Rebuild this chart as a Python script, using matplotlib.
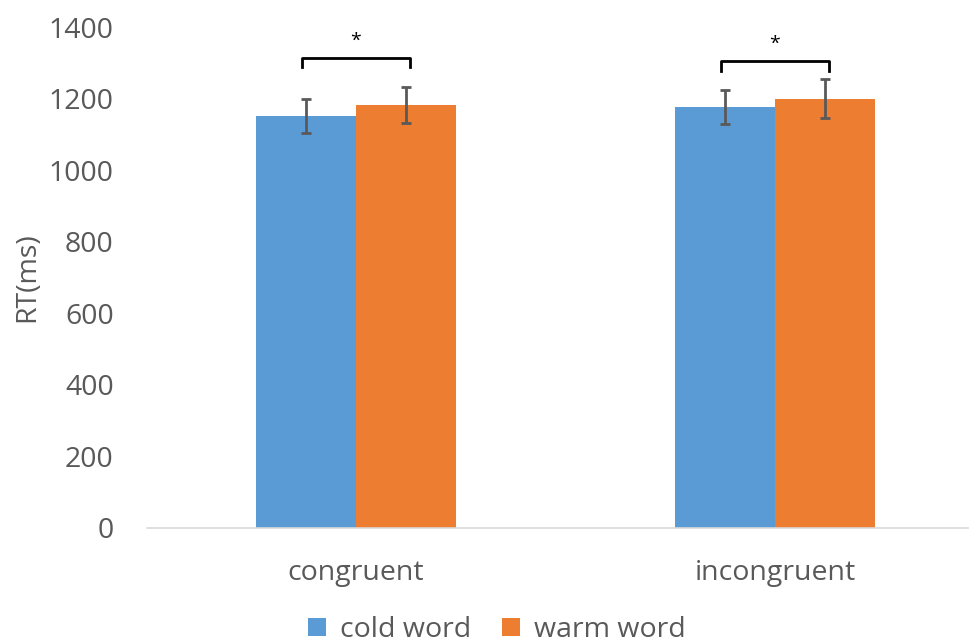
import numpy as np
import matplotlib.pyplot as plt

# ── Data ───────────────────────────────────────────────────────────────────────
conditions = ['congruent', 'incongruent']
series = ['cold word', 'warm word']
cold_rt = [1151, 1177]
warm_rt = [1182, 1200]
cold_err = [47, 48]
warm_err = [50, 54]
# significance brackets: (bracket height, leg bottom)
bracket_y = [1314, 1306]
bracket_leg = [1289, 1278]
sig_labels = ['*', '*']

colors = ['#5b9bd5', '#ed7d31']
text_grey = '#595959'

plt.rcParams['font.family'] = ['Open Sans', 'DejaVu Sans']

# ── Plot ───────────────────────────────────────────────────────────────────────
fig = plt.figure(figsize=(9.71, 6.44), dpi=100)
ax = fig.add_axes([147 / 971, 116 / 644, 821 / 971, 501 / 644])

x = np.arange(len(conditions))
w = 0.2387
ekw = dict(ecolor='#595959', elinewidth=2, capsize=3.5, capthick=2)
ax.bar(x - w / 2, cold_rt, w, color=colors[0], label=series[0], yerr=cold_err, error_kw=ekw)
ax.bar(x + w / 2, warm_rt, w, color=colors[1], label=series[1], yerr=warm_err, error_kw=ekw)

# significance brackets
for i in range(len(conditions)):
    xl = x[i] - 0.13
    xr = x[i] + 0.13
    ax.plot([xl, xl, xr, xr], [bracket_leg[i], bracket_y[i], bracket_y[i], bracket_leg[i]],
            color='black', lw=2, solid_joinstyle='round')
    ax.text((xl + xr) / 2, bracket_y[i] + 22, sig_labels[i], ha='center', va='bottom',
            fontsize=14, color='black')

ax.set_xlim(-0.4988, 1.4606)
ax.set_ylim(0, 1400)
ax.set_yticks(range(0, 1401, 200))
ax.set_xticks(x)
ax.set_xticklabels(conditions)
ax.tick_params(axis='both', length=0, labelsize=20.5, colors=text_grey)
ax.tick_params(axis='y', pad=24)
ax.tick_params(axis='x', pad=22)
for s in ['top', 'right', 'left']:
    ax.spines[s].set_visible(False)
ax.spines['bottom'].set_color('#d9d9d9')
ax.spines['bottom'].set_linewidth(1.2)

fig.text(27 / 971, 1 - 277 / 644, 'RT(ms)', rotation=90, ha='center', va='center',
         fontsize=20.5, color=text_grey)

fig.legend(loc='center', bbox_to_anchor=(497 / 971, 1 - 630 / 644), ncol=2, frameon=False,
           fontsize=20.5, labelcolor=text_grey, handlelength=0.62, handleheight=0.62,
           handletextpad=0.5, columnspacing=1.1)

fig.savefig('out.png', dpi=100)
